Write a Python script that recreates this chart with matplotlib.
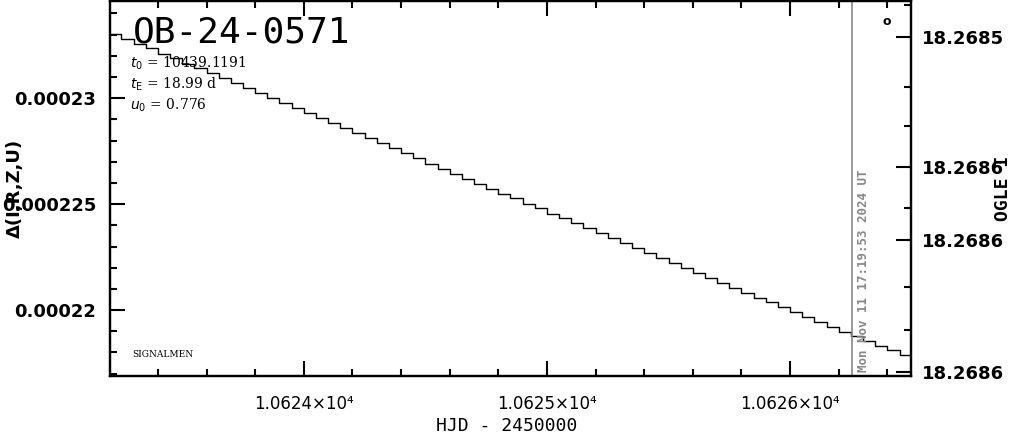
import matplotlib
matplotlib.use("Agg")
import matplotlib.pyplot as plt
from matplotlib.ticker import MultipleLocator, FuncFormatter, FixedLocator, FixedFormatter

# ---- data ----
hjd = [10623.20, 10623.25, 10623.30, 10623.35, 10623.40, 10623.45, 10623.50,
       10623.55, 10623.60, 10623.65, 10623.70, 10623.75, 10623.80, 10623.85,
       10623.90, 10623.95, 10624.00, 10624.05, 10624.10, 10624.15, 10624.20,
       10624.25, 10624.30, 10624.35, 10624.40, 10624.45, 10624.50, 10624.55,
       10624.60, 10624.65, 10624.70, 10624.75, 10624.80, 10624.85, 10624.90,
       10624.95, 10625.00, 10625.05, 10625.10, 10625.15, 10625.20, 10625.25,
       10625.30, 10625.35, 10625.40, 10625.45, 10625.50, 10625.55, 10625.60,
       10625.65, 10625.70, 10625.75, 10625.80, 10625.85, 10625.90, 10625.95,
       10626.00, 10626.05, 10626.10, 10626.15, 10626.20, 10626.25, 10626.30,
       10626.35, 10626.40, 10626.45, 10626.50]
delta_e6 = [233.04, 232.81, 232.58, 232.35, 232.11, 231.88, 231.64,
            231.41, 231.17, 230.94, 230.70, 230.47, 230.23, 230.00,
            229.76, 229.53, 229.29, 229.06, 228.82, 228.59, 228.35,
            228.12, 227.88, 227.64, 227.40, 227.16, 226.92, 226.68,
            226.44, 226.21, 225.97, 225.74, 225.50, 225.27, 225.03,
            224.80, 224.56, 224.33, 224.09, 223.86, 223.62, 223.39,
            223.15, 222.92, 222.68, 222.45, 222.21, 221.98, 221.74,
            221.51, 221.28, 221.05, 220.82, 220.59, 220.36, 220.13,
            219.90, 219.67, 219.44, 219.21, 218.98, 218.76, 218.54,
            218.32, 218.10, 217.89, 217.68]
delta = [d * 1e-6 for d in delta_e6]

title = "OB-24-0571"
params = [r"$t_0$ = 10439.1191", r"$t_{\rm E}$ = 18.99 d", r"$u_0$ = 0.776"]
now_hjd = 10626.255
now_label = "Mon Nov 11 17:19:53 2024 UT"

xlim = (10623.203, 10626.497)
ylim = (0.00021689, 0.00023459)

right_major = [18.2685000, 18.2685582, 18.2685909, 18.2686500]
right_major_labels = ["18.2685", "18.2686", "18.2686", "18.2686"]
right_minor = [18.2684857, 18.2685224, 18.2685399, 18.2685766, 18.2686119, 18.2686312]
right_lim = (18.2686518, 18.2684839)

# ---- figure ----
fig = plt.figure(figsize=(10.14, 4.34), dpi=100)
ax = fig.add_axes([0.1085, 0.1336, 0.7899, 0.8641])

ax.plot(hjd, delta, color="black", lw=1.0, drawstyle="steps-post")
ax.set_xlim(*xlim)
ax.set_ylim(*ylim)

ax.axvline(now_hjd, color="#888888", lw=1.2)
ax.text(now_hjd + 0.02, ylim[0] + 0.0000002, now_label, rotation=90,
        ha="left", va="bottom", color="#888888", fontsize=9,
        family="DejaVu Sans Mono", fontweight="bold")

for s in ax.spines.values():
    s.set_linewidth(1.6)

ax.xaxis.set_major_locator(MultipleLocator(1.0))
ax.xaxis.set_minor_locator(MultipleLocator(0.2))
ax.yaxis.set_major_locator(MultipleLocator(5e-6))
ax.yaxis.set_minor_locator(MultipleLocator(1e-6))
ax.xaxis.set_major_formatter(FuncFormatter(lambda v, p: f"{v/1e4:.4f}×10⁴"))
ax.yaxis.set_major_formatter(FuncFormatter(lambda v, p: f"{v:g}"))
ax.tick_params(which="both", direction="in", top=True, right=False, width=1.5)
ax.tick_params(which="major", length=11)
ax.tick_params(which="minor", length=5)
ax.tick_params(axis="x", labelsize=12, pad=14)
ax.tick_params(axis="y", labelsize=13, pad=10)
for lab in ax.get_yticklabels():
    lab.set_fontweight("bold")

ax2 = ax.twinx()
ax2.set_ylim(*right_lim)
ax2.yaxis.set_major_locator(FixedLocator(right_major))
ax2.yaxis.set_major_formatter(FixedFormatter(right_major_labels))
ax2.yaxis.set_minor_locator(FixedLocator(right_minor))
ax2.tick_params(which="both", direction="in", width=1.5, labelsize=13, pad=8)
ax2.tick_params(which="major", length=11)
ax2.tick_params(which="minor", length=5)
for lab in ax2.get_yticklabels():
    lab.set_fontweight("bold")
for s in ax2.spines.values():
    s.set_linewidth(1.6)

fig.text(0.5, 1 - 426 / 434, "HJD - 2450000", ha="center", va="center",
         fontsize=13, family="DejaVu Sans Mono")
fig.text(15 / 1014, 1 - 188 / 434, "Δ(I,R,Z,U)", rotation=90, ha="center",
         va="center", fontsize=13, fontweight="bold")
fig.text(1003 / 1014, 1 - 188 / 434, "OGLE I", rotation=90, ha="center",
         va="center", fontsize=13, fontweight="bold", family="DejaVu Sans Mono")

ax.text(0.028, 0.96, title, transform=ax.transAxes, ha="left", va="top",
        fontsize=26, family="DejaVu Sans Mono")
for i, p in enumerate(params):
    ax.text(0.025, 0.835 - i * 0.057, p, transform=ax.transAxes, ha="left",
            va="center", fontsize=10, family="DejaVu Serif")
ax.text(0.028, 0.058, "SIGNALMEN", transform=ax.transAxes, ha="left",
        va="center", fontsize=6.5, family="DejaVu Serif")
ax.text(0.97, 0.945, "o", transform=ax.transAxes, ha="center", va="center",
        fontsize=9, fontweight="bold")

fig.savefig("out.png", dpi=100)
